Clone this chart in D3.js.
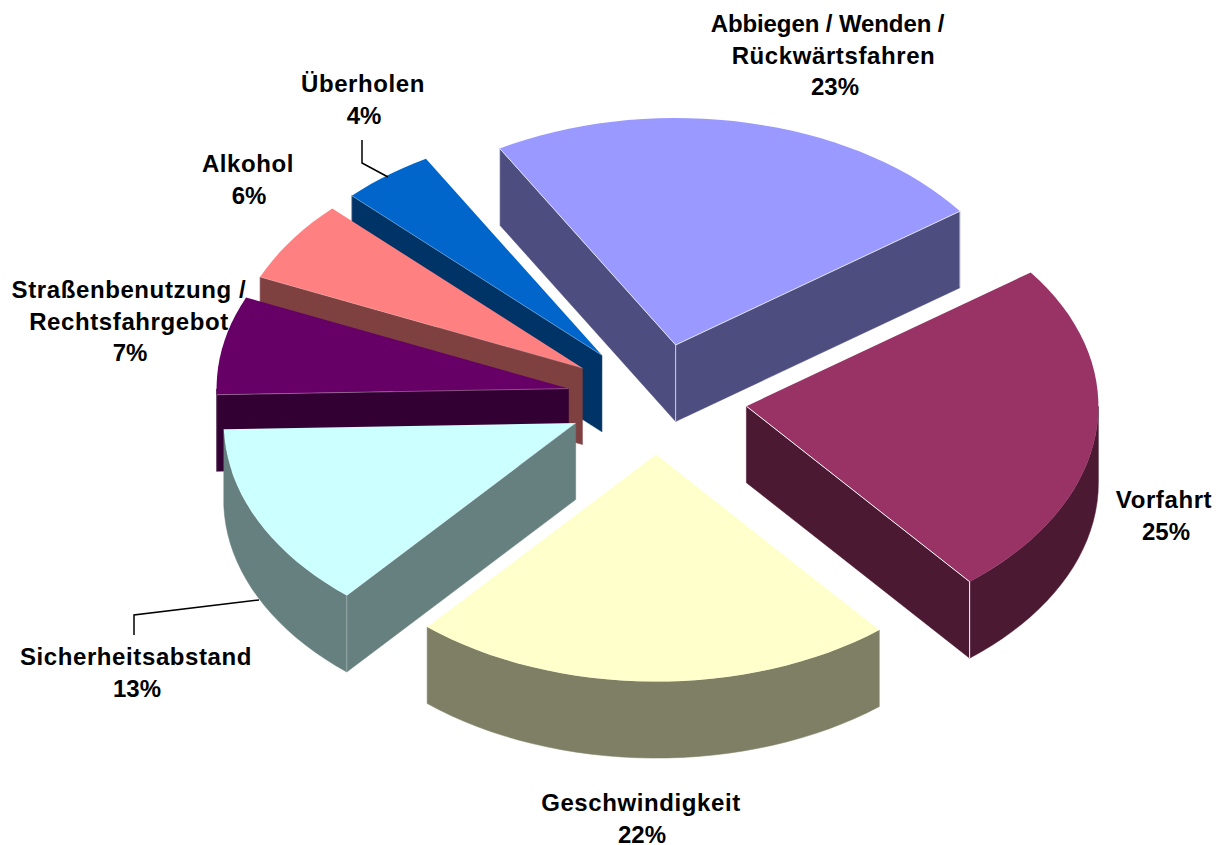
<!DOCTYPE html>
<html>
<head>
<meta charset="utf-8">
<script src="https://cdn.jsdelivr.net/npm/d3@7"></script>
<style>
    html, body { margin: 0; padding: 0; background: #fff; }
    text { font-family: 'Liberation Sans', Arial, sans-serif; font-weight: bold; font-size: 24px; letter-spacing: 0.6px; fill: #000; }
    tspan.percent { letter-spacing: 0; }
    tspan.tight { letter-spacing: -0.1px; }
</style>
</head>
<body>
<svg id="chart" width="1227" height="845"></svg>
<script>
// values (from slice angles), labels are the rounded ones printed
const categories = [
    ['Abbiegen / Wenden /', 'Rückwärtsfahren'],
    ['Vorfahrt'],
    ['Geschwindigkeit'],
    ['Sicherheitsabstand'],
    ['Straßenbenutzung /', 'Rechtsfahrgebot'],
    ['Alkohol'],
    ['Überholen']
]
const values = [23.3, 24.1, 22.2, 13.3, 7.0, 5.85, 4.25]
const percentLabels = ['23%', '25%', '22%', '13%', '7%', '6%', '4%']
const topColors = ['#9999ff', '#993366', '#ffffcc', '#ccffff', '#660066', '#ff8080', '#0066cc']
const wallColors = ['#4d4d7f', '#4c1933', '#7f7f66', '#667f7f', '#330033', '#7f4040', '#003366']
const edgeAlpha = [0.75, 1, 0, 0.3, 0.3, 0.2, 0.3]

// label line centres and first baseline y
const labelX = [[827.5, 833.5, 835], [1164, 1166], [641, 642], [136, 137], [129, 129, 130], [248, 249], [363, 364]]
const labelY = [32, 508, 811, 665, 298, 172, 92]
const lineHeight = 31.5

const cx = 657
const cy = 399.2
const rx = 352
const ry = 227
const depth = 76.5
const explodeX = 0.256
const explodeY = 0.244
const rad = Math.PI / 180

const svg = d3.select('#chart')

const arcs = d3.pie()
    .sort(null)
    .startAngle(-30 * rad)
    .endAngle(330 * rad)(values)

const project = (ox, oy, a) => [ox + rx * Math.sin(a), oy - ry * Math.cos(a)]
const path = d3.line()

const slices = arcs.map(function (d) {
    let mid = (d.startAngle + d.endAngle) / 2
    let apex = [cx + explodeX * rx * Math.sin(mid), cy - explodeY * ry * Math.cos(mid)]
    return { index: d.index, a0: d.startAngle, a1: d.endAngle, mid: mid, apex: apex }
}).sort((a, b) => Math.cos(b.mid) - Math.cos(a.mid))

function rimPoints (s, from, to) {
    let n = Math.max(1, Math.ceil((to - from) / (2.5 * rad)))
    return d3.range(n + 1).map(i => project(s.apex[0], s.apex[1], from + (to - from) * i / n))
}

const drop = p => [p[0], p[1] + depth]

const groups = svg.selectAll('g.slice')
    .data(slices)
    .enter()
    .append('g')
    .attr('class', 'slice')

groups.each(function (s) {
    let g = d3.select(this)
    let wall = wallColors[s.index]
    let rimA = project(s.apex[0], s.apex[1], s.a0)
    let rimB = project(s.apex[0], s.apex[1], s.a1)
    // a straight side is seen only when its outward normal points down the screen
    let showA = Math.cos(s.a0 - Math.PI / 2) < 0
    let showB = Math.cos(s.a1 + Math.PI / 2) < 0

    let sides = []
    if (showA) sides.push(rimA)
    if (showB) sides.push(rimB)
    sides.forEach(function (rim) {
        g.append('path')
            .attr('d', path([s.apex, rim, drop(rim), drop(s.apex)]) + 'Z')
            .attr('fill', wall)
            .attr('stroke', wall)
            .attr('stroke-width', 0.5)
    })

    // outer wall, only the part facing the viewer
    let from = Math.max(s.a0, 90 * rad)
    let to = Math.min(s.a1, 270 * rad)
    if (to > from) {
        let rim = rimPoints(s, from, to)
        g.append('path')
            .attr('d', path(rim.concat(rim.map(drop).reverse())) + 'Z')
            .attr('fill', wall)
            .attr('stroke', wall)
            .attr('stroke-width', 0.5)
    }

    // top face
    g.append('path')
        .attr('d', path([s.apex].concat(rimPoints(s, s.a0, s.a1))) + 'Z')
        .attr('fill', topColors[s.index])

    // thin light creases between the faces
    let creases = sides.map(rim => [s.apex, rim])
    sides.forEach(rim => creases.push([rim, drop(rim)]))
    if (showA && showB) creases.push([s.apex, drop(s.apex)])
    creases.forEach(function (c) {
        g.append('path')
            .attr('d', path(c))
            .attr('fill', 'none')
            .attr('stroke', '#fff')
            .attr('stroke-opacity', edgeAlpha[s.index])
            .attr('stroke-width', 1)
    })
})

// leader lines for the two labels that sit away from their slice
const leaders = [
    { from: [362, 140], mid: [362, 163], to: [388, 177] },
    { from: [134, 635], mid: [134, 615], to: [259, 600] }
]
svg.selectAll('path.leader')
    .data(leaders)
    .enter()
    .append('path')
    .attr('class', 'leader')
    .attr('d', d => path([d.from, d.mid, d.to]))
    .attr('fill', 'none')
    .attr('stroke', '#000')
    .attr('stroke-width', 1.5)

const labels = svg.selectAll('text.label')
    .data(categories)
    .enter()
    .append('text')
    .attr('class', 'label')
    .style('text-anchor', 'middle')

labels.selectAll('tspan')
    .data((d, i) => d.concat(percentLabels[i]).map((t, j) => ({ t: t, i: i, j: j, last: j === d.length })))
    .enter()
    .append('tspan')
    .attr('class', d => d.last ? 'percent' : (d.i === 0 && d.j === 0 ? 'tight' : null))
    .attr('x', d => labelX[d.i][d.j])
    .attr('y', d => labelY[d.i] + d.j * lineHeight)
    .text(d => d.t)
</script>
</body>
</html>
